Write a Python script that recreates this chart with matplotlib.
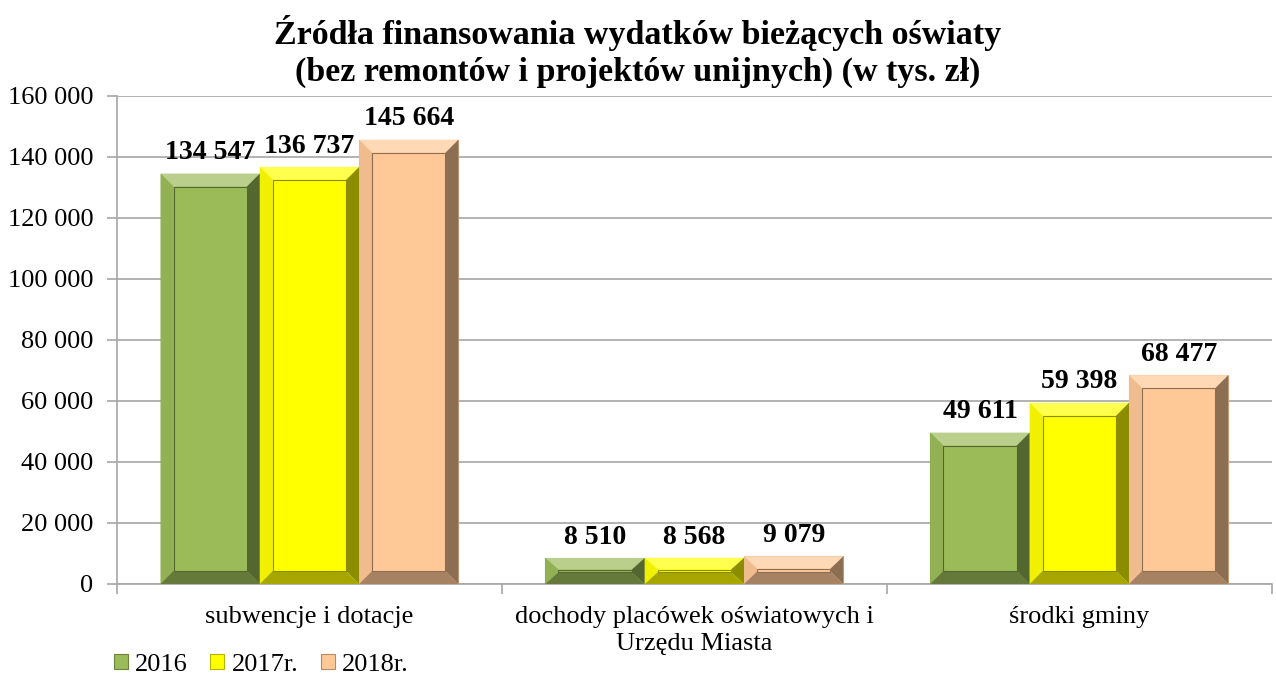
import numpy as np
import matplotlib
matplotlib.use("Agg")
import matplotlib.pyplot as plt
from matplotlib.patches import Polygon, Rectangle
from matplotlib.colors import to_rgb

TITLE = "Źródła finansowania wydatków bieżących oświaty\n(bez remontów i projektów unijnych) (w tys. zł)"
CATEGORIES = ["subwencje i dotacje",
              "dochody placówek oświatowych i\nUrzędu Miasta",
              "środki gminy"]
SERIES = ["2016", "2017r.", "2018r."]
V2016 = [134547, 8510, 49611]
V2017 = [136737, 8568, 59398]
V2018 = [145664, 9079, 68477]
COLORS = ["#9BBB59", "#FFFF00", "#FFC896"]
YTICKS = [0, 20000, 40000, 60000, 80000, 100000, 120000, 140000, 160000]

plt.rcParams["font.family"] = ["Liberation Serif", "DejaVu Serif"]


def shade(c, f):
    r = np.array(to_rgb(c))
    if f >= 0:
        return tuple(r + (1 - r) * f)
    return tuple(r * (1 + f))


def fmt(v):
    return f"{v:,.0f}".replace(",", " ")


def bevel(ax, x0, w, h, color, bpx=13):
    # bevel width in pixels -> data units
    bb = ax.get_window_extent()
    x_lo, x_hi = ax.get_xlim()
    y_lo, y_hi = ax.get_ylim()
    dx = bpx * (x_hi - x_lo) / bb.width
    dy = bpx * (y_hi - y_lo) / bb.height
    dy = min(dy, h * 0.45)
    dx = min(dx, w * 0.45)
    x1 = x0 + w
    ax.add_patch(Rectangle((x0, 0), w, h, fc=color, ec=shade(color, -0.12), lw=0.8, zorder=3))
    faces = [
        ([(x0, h), (x1, h), (x1 - dx, h - dy), (x0 + dx, h - dy)], shade(color, 0.3)),
        ([(x0, 0), (x0, h), (x0 + dx, h - dy), (x0 + dx, dy)], shade(color, -0.06)),
        ([(x1, 0), (x1, h), (x1 - dx, h - dy), (x1 - dx, dy)], shade(color, -0.45)),
        ([(x0, 0), (x1, 0), (x1 - dx, dy), (x0 + dx, dy)], shade(color, -0.35)),
    ]
    for pts, c in faces:
        ax.add_patch(Polygon(pts, closed=True, fc=c, ec="none", zorder=4))
    ax.add_patch(Rectangle((x0 + dx, dy), w - 2 * dx, h - 2 * dy, fc=color,
                           ec=shade(color, -0.45), lw=0.8, zorder=5))


fig = plt.figure(figsize=(12.76, 6.77), dpi=100)
ax = fig.add_axes([0.0917, 0.1374, 0.905, 0.7208])

x = np.arange(len(CATEGORIES))
bw = 0.258
ax.set_xlim(-0.5, len(CATEGORIES) - 0.5)
ax.set_ylim(0, 160000)

ax.set_yticks(YTICKS)
ax.set_yticklabels([fmt(v) for v in YTICKS], fontsize=19)
ax.yaxis.grid(True, color="#A6A6A6", lw=1.2, zorder=0)
ax.set_axisbelow(True)

ax.set_xticks(x)
ax.set_xticklabels(CATEGORIES, fontsize=19, linespacing=1.3)
ax.tick_params(axis="x", length=0, pad=16)
ax.set_xticks(np.arange(-0.5, len(CATEGORIES)), minor=True)
ax.tick_params(axis="x", which="minor", length=7, color="#A6A6A6", width=1.2)
ax.tick_params(axis="y", length=7, color="#A6A6A6", width=1.2, pad=10)

for s in ["top", "right"]:
    ax.spines[s].set_visible(False)
for s in ["left", "bottom"]:
    ax.spines[s].set_color("#A6A6A6")
    ax.spines[s].set_linewidth(1.2)

fig.canvas.draw()
for i, vals in enumerate([V2016, V2017, V2018]):
    for j, v in enumerate(vals):
        x0 = x[j] + (i - 1.5) * bw
        bevel(ax, x0, bw, v, COLORS[i])
        ax.annotate(fmt(v), (x0 + bw / 2, v), xytext=(0, 6), textcoords="offset points",
                    ha="center", va="bottom", fontsize=20, fontweight="bold", zorder=6)

fig.suptitle(TITLE, x=0.5, y=0.978, fontsize=24.5, fontweight="bold", linespacing=1.25)

handles = [Rectangle((0, 0), 1, 1, fc=c, ec=shade(c, -0.3), lw=0.8) for c in COLORS]
fig.legend(handles, SERIES, loc="center left", bbox_to_anchor=(0.089, 0.018), ncol=3,
           frameon=False, fontsize=19, handlelength=0.53, handleheight=0.53,
           handletextpad=0.27, columnspacing=0.87, borderaxespad=0, borderpad=0)

fig.savefig("out.png", dpi=100)
